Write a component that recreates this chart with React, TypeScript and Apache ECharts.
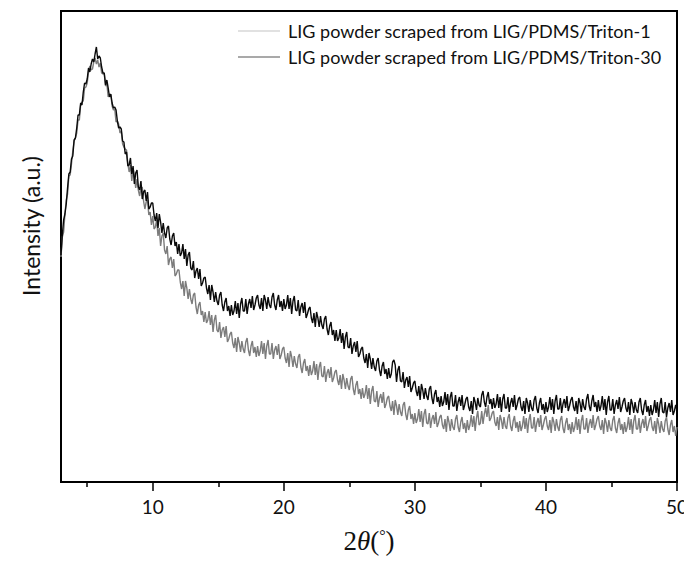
import React, { useEffect, useRef } from "react";
import * as echarts from "echarts";

// 2θ grid: first angle and step (degrees)
const START_2THETA = 3.0;
const STEP_2THETA = 0.1;

const xTickValues = [10, 20, 30, 40, 50];
const xMinorTickValues = [5, 15, 25, 35, 45];

const seriesNames = [
  "LIG powder scraped from LIG/PDMS/Triton-1",
  "LIG powder scraped from LIG/PDMS/Triton-30",
];

// Intensity (a.u.), one value per 0.1° from 3° to 50°
const triton1 = [
  225, 245, 250, 268, 282, 288, 306, 307, 318, 331, // 3
  341, 344, 349, 362, 362, 377, 380, 381, 394, 395, // 4
  399, 410, 416, 412, 413, 420, 424, 418, 422, 415, // 5
  419, 409, 408, 408, 396, 398, 385, 388, 387, 376, // 6
  372, 373, 360, 361, 358, 349, 351, 338, 335, 333, // 7
  332, 318, 310, 317, 301, 314, 306, 294, 303, 292, // 8
  286, 294, 295, 281, 273, 280, 282, 267, 270, 257, // 9
  266, 253, 255, 262, 246, 254, 236, 246, 249, 232, // 10
  228, 236, 217, 223, 225, 214, 223, 206, 208, 212, // 11
  212, 200, 193, 201, 186, 201, 194, 183, 193, 183, // 12
  178, 187, 189, 175, 168, 177, 180, 167, 171, 160, // 13
  170, 159, 162, 171, 157, 167, 150, 162, 167, 152, // 14
  150, 160, 144, 152, 155, 145, 156, 140, 143, 148, // 15
  150, 139, 134, 144, 130, 145, 139, 130, 141, 133, // 16
  129, 140, 144, 132, 126, 136, 141, 129, 135, 125, // 17
  136, 126, 131, 141, 128, 139, 123, 136, 142, 128, // 18
  128, 139, 123, 132, 136, 127, 138, 123, 127, 133, // 19
  135, 124, 119, 129, 115, 131, 125, 115, 126, 118, // 20
  114, 125, 128, 115, 109, 119, 123, 111, 116, 106, // 21
  117, 107, 111, 121, 107, 118, 102, 115, 120, 106, // 22
  105, 116, 100, 109, 113, 104, 115, 100, 104, 110, // 23
  112, 102, 97, 107, 93, 108, 102, 93, 104, 96, // 24
  92, 103, 106, 93, 87, 97, 101, 88, 93, 83, // 25
  94, 84, 88, 97, 83, 94, 78, 91, 96, 81, // 26
  80, 91, 75, 84, 88, 79, 90, 74, 78, 84, // 27
  86, 76, 71, 81, 67, 82, 76, 67, 78, 70, // 28
  66, 77, 80, 68, 62, 72, 76, 63, 68, 58, // 29
  69, 59, 63, 73, 60, 71, 55, 68, 73, 59, // 30
  58, 69, 54, 63, 67, 58, 70, 55, 59, 65, // 31
  67, 57, 53, 63, 50, 66, 60, 51, 63, 55, // 32
  52, 63, 67, 55, 50, 60, 65, 53, 59, 49, // 33
  62, 52, 57, 67, 55, 66, 51, 64, 71, 57, // 34
  59, 71, 58, 68, 74, 65, 77, 61, 64, 69, // 35
  71, 60, 56, 65, 52, 67, 62, 53, 65, 56, // 36
  53, 64, 68, 56, 51, 61, 66, 54, 60, 50, // 37
  61, 51, 56, 66, 53, 64, 49, 62, 68, 54, // 38
  54, 65, 50, 59, 64, 55, 67, 52, 57, 63, // 39
  66, 56, 52, 62, 49, 65, 60, 51, 63, 55, // 40
  51, 62, 66, 54, 49, 59, 64, 52, 58, 48, // 41
  60, 50, 55, 65, 52, 63, 48, 61, 67, 53, // 42
  53, 64, 49, 58, 63, 54, 67, 52, 57, 63, // 43
  66, 56, 52, 62, 48, 64, 59, 50, 62, 54, // 44
  51, 62, 66, 54, 49, 59, 64, 52, 58, 48, // 45
  60, 50, 55, 65, 52, 63, 48, 61, 67, 53, // 46
  53, 64, 49, 58, 63, 54, 66, 51, 56, 62, // 47
  65, 55, 51, 61, 48, 64, 58, 49, 61, 53, // 48
  50, 61, 65, 53, 47, 57, 62, 50, 56, 46, // 49
  55, // 50
];

const triton30 = [
  227, 247, 262, 268, 278, 294, 308, 310, 323, 326, // 3
  342, 344, 354, 367, 367, 379, 377, 390, 399, 398, // 4
  403, 414, 410, 418, 423, 420, 428, 435, 423, 426, // 5
  424, 415, 409, 409, 397, 402, 394, 385, 388, 379, // 6
  374, 375, 372, 361, 354, 355, 353, 341, 340, 328, // 7
  330, 316, 317, 324, 308, 316, 298, 309, 312, 295, // 8
  292, 301, 283, 290, 292, 281, 290, 273, 275, 279, // 9
  279, 267, 261, 269, 254, 268, 260, 249, 259, 249, // 10
  244, 254, 256, 243, 237, 246, 249, 236, 240, 228, // 11
  238, 226, 229, 238, 223, 233, 216, 227, 230, 214, // 12
  212, 221, 204, 211, 214, 203, 213, 196, 199, 204, // 13
  205, 194, 188, 197, 182, 197, 190, 180, 190, 181, // 14
  177, 187, 190, 177, 171, 180, 184, 171, 176, 166, // 15
  177, 167, 171, 181, 168, 179, 164, 178, 184, 171, // 16
  171, 183, 168, 178, 183, 174, 186, 172, 177, 184, // 17
  187, 177, 173, 184, 171, 187, 182, 173, 185, 177, // 18
  174, 185, 189, 177, 172, 182, 187, 175, 181, 171, // 19
  183, 173, 177, 187, 173, 184, 168, 181, 186, 172, // 20
  171, 182, 166, 175, 179, 169, 180, 164, 168, 173, // 21
  175, 164, 159, 169, 155, 170, 164, 155, 166, 157, // 22
  153, 163, 166, 153, 147, 156, 160, 147, 152, 141, // 23
  152, 141, 144, 153, 139, 149, 133, 145, 150, 135, // 24
  134, 144, 128, 136, 140, 130, 141, 125, 128, 133, // 25
  135, 124, 119, 128, 114, 129, 123, 113, 124, 115, // 26
  111, 121, 124, 112, 106, 116, 120, 108, 113, 103, // 27
  114, 104, 108, 120, 122, 117, 100, 112, 116, 101, // 28
  100, 110, 94, 102, 105, 95, 106, 90, 94, 99, // 29
  101, 91, 86, 96, 82, 98, 92, 83, 94, 86, // 30
  82, 93, 96, 84, 78, 88, 92, 80, 85, 75, // 31
  86, 76, 80, 90, 77, 88, 72, 85, 90, 76, // 32
  76, 87, 71, 80, 85, 76, 87, 72, 77, 83, // 33
  85, 75, 71, 81, 68, 85, 80, 72, 84, 77, // 34
  75, 87, 91, 80, 75, 85, 90, 78, 83, 73, // 35
  84, 74, 78, 88, 74, 85, 70, 83, 88, 74, // 36
  74, 85, 70, 79, 84, 75, 87, 72, 77, 83, // 37
  85, 75, 71, 81, 68, 84, 79, 70, 82, 74, // 38
  71, 82, 86, 74, 69, 79, 84, 72, 78, 68, // 39
  80, 70, 75, 85, 72, 83, 68, 81, 87, 73, // 40
  73, 84, 69, 78, 83, 74, 86, 71, 76, 82, // 41
  85, 75, 71, 81, 68, 84, 79, 70, 83, 75, // 42
  72, 83, 88, 76, 71, 81, 87, 75, 80, 70, // 43
  82, 71, 76, 86, 72, 83, 67, 80, 86, 72, // 44
  72, 83, 68, 77, 82, 73, 85, 70, 75, 81, // 45
  84, 74, 70, 80, 67, 83, 78, 69, 80, 72, // 46
  69, 80, 84, 72, 67, 77, 82, 70, 76, 66, // 47
  77, 67, 72, 82, 69, 80, 65, 78, 84, 70, // 48
  69, 80, 65, 74, 79, 70, 82, 67, 71, 77, // 49
  72, // 50
];

const toPairs = (vals: number[]) =>
  vals.map((v, i) => [+(START_2THETA + i * STEP_2THETA).toFixed(2), v]);

const SANS = "Lato, 'Noto Sans', sans-serif";
const SERIF = "'Liberation Serif', 'DejaVu Serif', serif";

export default function App() {
  const ref = useRef<HTMLDivElement>(null);
  useEffect(() => {
    if (!ref.current) return;
    const chart = echarts.init(ref.current, null, { renderer: "svg", width: 684, height: 561 });
    chart.setOption({
      animation: false,
      backgroundColor: "#ffffff",
      grid: {
        left: 61,
        right: 7,
        top: 11,
        bottom: 79,
        containLabel: false,
        outerBoundsMode: "none",
        show: true,
        borderColor: "#000",
        borderWidth: 2,
        backgroundColor: "transparent",
      },
      legend: {
        orient: "vertical",
        left: 233,
        top: 16,
        itemWidth: 42,
        itemHeight: 14,
        itemGap: 6,
        icon: "path://M0,7 L42,7 L42,8 L0,8 Z",
        textStyle: {
          fontFamily: SANS,
          fontSize: 18,
          color: "#111",
          lineHeight: 20,
          padding: [0, 0, 0, 3],
        },
        data: [
          { name: seriesNames[0], itemStyle: { color: "#c4c4c4" } },
          { name: seriesNames[1], itemStyle: { color: "#555" } },
        ],
      },
      xAxis: [
        {
          type: "value",
          min: 3,
          max: 50,
          axisLine: { show: false },
          splitLine: { show: false },
          axisTick: {
            show: true,
            inside: false,
            length: 9,
            lineStyle: { color: "#000", width: 1.5 },
            customValues: xTickValues,
          },
          axisLabel: {
            show: true,
            customValues: xTickValues,
            margin: 15,
            fontFamily: SANS,
            fontSize: 19,
            color: "#111",
          },
          name: "{n|2}{i|θ}{n|(}{s|°}{n|)}",
          nameLocation: "middle",
          nameGap: 45,
          nameTextStyle: {
            rich: {
              n: { fontFamily: SERIF, fontSize: 27, color: "#111" },
              i: { fontFamily: SERIF, fontSize: 27, fontStyle: "italic", color: "#111" },
              s: { fontFamily: SERIF, fontSize: 16, color: "#111", verticalAlign: "top", padding: [0, 0, 12, 0] },
            },
          },
        },
        {
          type: "value",
          min: 3,
          max: 50,
          position: "bottom",
          axisLine: { show: false },
          splitLine: { show: false },
          axisTick: {
            show: true,
            length: 5,
            lineStyle: { color: "#000", width: 1.5 },
            customValues: xMinorTickValues,
          },
          axisLabel: { show: false },
        },
      ],
      yAxis: {
        type: "value",
        min: 0,
        max: 471,
        axisLine: { show: false },
        axisTick: { show: false },
        axisLabel: { show: false },
        splitLine: { show: false },
      },
      graphic: [
        {
          type: "text",
          x: 31,
          y: 226,
          rotation: Math.PI / 2,
          style: {
            text: "Intensity (a.u.)",
            fontFamily: SANS,
            fontSize: 23,
            fill: "#111",
            textAlign: "center",
            textVerticalAlign: "middle",
          },
        },
      ],
      series: [
        {
          name: seriesNames[0],
          type: "line",
          xAxisIndex: 0,
          data: toPairs(triton1),
          symbol: "none",
          showSymbol: false,
          lineStyle: { color: "#7c7c7c", width: 1.4 },
          itemStyle: { color: "#7c7c7c" },
          z: 2,
        },
        {
          name: seriesNames[1],
          type: "line",
          xAxisIndex: 0,
          data: toPairs(triton30),
          symbol: "none",
          showSymbol: false,
          lineStyle: { color: "#0a0a0a", width: 1.4 },
          itemStyle: { color: "#0a0a0a" },
          z: 3,
        },
      ],
    });
    return () => chart.dispose();
  }, []);
  return (
    <div
      ref={ref}
      style={{ position: "fixed", left: 0, top: 0, width: 684, height: 561, background: "#fff" }}
    />
  );
}
